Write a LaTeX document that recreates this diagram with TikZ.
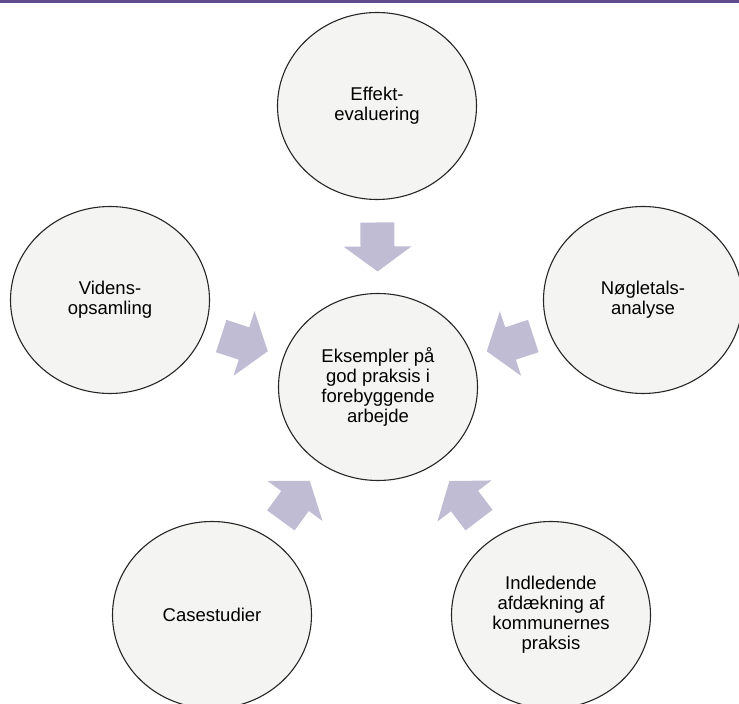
\documentclass[tikz,border=0pt]{standalone}
\usepackage{fontspec}
\setmainfont{Liberation Sans}
\usetikzlibrary{shapes.geometric,calc}
\definecolor{barpurple}{RGB}{96,76,140}
\definecolor{arrowfill}{RGB}{192,188,211}
\definecolor{circfill}{RGB}{244,244,243}
\tikzset{
  topic/.style={draw=black!85, line width=1.1pt, fill=circfill, ellipse,
    minimum width=199pt, minimum height=187pt, inner sep=0pt, align=center,
    font=\fontsize{18.5}{20}\selectfont},
}
\begin{document}
\begin{tikzpicture}[x=1pt,y=1pt]
  \useasboundingbox (0,0) rectangle (739,704);
  \fill[barpurple] (0,701) rectangle (739,704);
  \node[topic] (main) at (378,317) {Eksempler på\\god praksis i\\forebyggende\\arbejde};
  \node[topic] (effekt) at (377,598) {Effekt-\\evaluering};
  \node[topic] (viden) at (110,404) {Videns-\\opsamling};
  \node[topic] (noegle) at (643,404) {Nøgletals-\\analyse};
  \node[topic] (cases) at (212,89) {Casestudier};
  \node[topic] (kommune) at (551,89) {Indledende\\afdækning af\\kommunernes\\praksis};
  % block arrows into the middle
  \foreach \src in {effekt,viden,noegle,cases,kommune}{
    \pgfmathanglebetweenpoints{\pgfpointanchor{\src}{center}}{\pgfpointanchor{main}{center}}
    \let\ang\pgfmathresult
    \fill[arrowfill, shift={($(\src.center)!0.5!(main.center)$)}, rotate=\ang]
      (-24,-17) -- (0,-17) -- (0,-34) -- (25,0) -- (0,34) -- (0,17) -- (-24,17) -- cycle;
  }
\end{tikzpicture}
\end{document}
